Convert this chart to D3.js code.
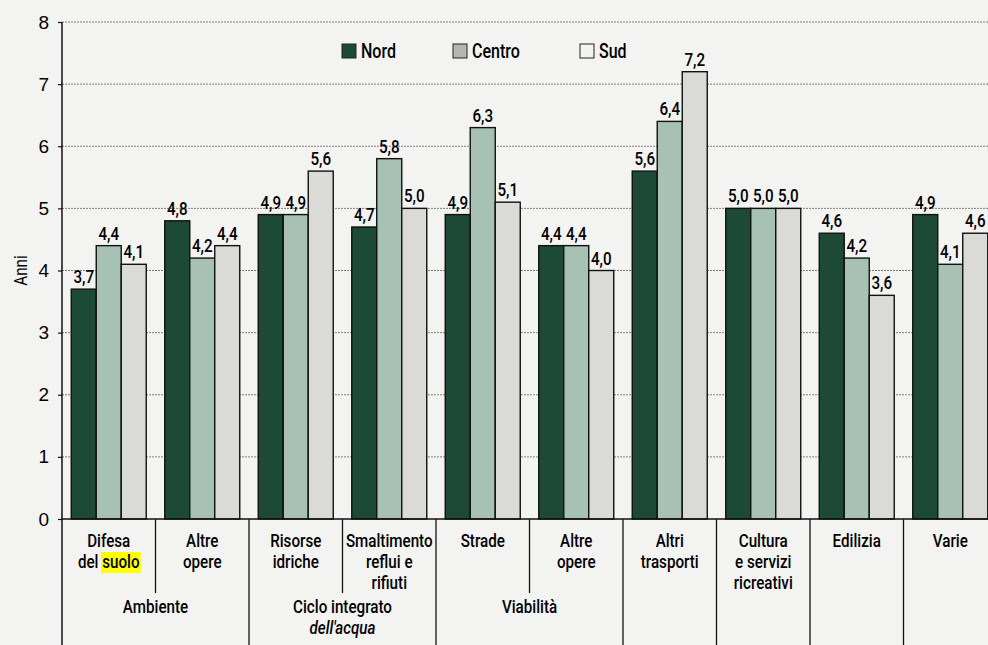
<!DOCTYPE html>
<html><head><meta charset="utf-8">
<script src="https://cdn.jsdelivr.net/npm/d3@7"></script>
<style>
html,body{margin:0;padding:0;background:#f3f3f1;}
svg{display:block;}
text{font-family:Roboto,"Liberation Sans",sans-serif;fill:#000;font-weight:500;}
</style></head>
<body>
<svg id="chart" width="988" height="645"></svg>
<script>
const categories = ["Difesa del suolo","Altre opere (Ambiente)","Risorse idriche","Smaltimento reflui e rifiuti","Strade","Altre opere (Viabilità)","Altri trasporti","Cultura e servizi ricreativi","Edilizia","Varie"];
const categoryLines = [["Difesa","del suolo"],["Altre","opere"],["Risorse","idriche"],["Smaltimento","reflui e","rifiuti"],["Strade"],["Altre","opere"],["Altri","trasporti"],["Cultura","e servizi","ricreativi"],["Edilizia"],["Varie"]];
const seriesNames = ["Nord","Centro","Sud"];
const nord   = [3.7, 4.8, 4.9, 4.7, 4.9, 4.4, 5.6, 5.0, 4.6, 4.9];
const centro = [4.4, 4.2, 4.9, 5.8, 6.3, 4.4, 6.4, 5.0, 4.2, 4.1];
const sud    = [4.1, 4.4, 5.6, 5.0, 5.1, 4.0, 7.2, 5.0, 3.6, 4.6];
const groups = [
  {name:["Ambiente"], from:0, to:1},
  {name:["Ciclo integrato","dell'acqua"], from:2, to:3},
  {name:["Viabilità"], from:4, to:5}
];
const yTicks = [0,1,2,3,4,5,6,7,8];
const colors = {Nord:"#1d4a36", Centro:"#a7c2b4", Sud:"#dadad6"};
const legendColors = {Nord:"#1d4a36", Centro:"#b3b6b2", Sud:"#f2f2f0"};

const values = {Nord:nord, Centro:centro, Sud:sud};
const svg = d3.select("#chart");
const x0 = 62, x1 = 997, yTop = 22, yBot = 519;
const SX = 0.8;

function ctext(parent, x, y, str, size, anchor, style){
  const g = parent.append("g").attr("transform", `translate(${x},${y}) scale(${SX},1)`);
  const t = g.append("text").attr("x", 0).attr("y", 0).attr("font-size", size)
    .attr("text-anchor", anchor || "middle").attr("font-style", style || "normal").text(str);
  return {g, t};
}

const xBand = d3.scaleBand().domain(categories).range([x0, x1]).padding(0);
const xs = d3.scaleBand().domain(seriesNames).range([0, xBand.bandwidth()]).paddingInner(0).paddingOuter(0.37);
const y = d3.scaleLinear().domain([0, 8]).range([yBot, yTop]);

svg.append("g").selectAll("line").data(yTicks.filter(d=>d>0)).join("line")
  .attr("x1", x0).attr("x2", 988).attr("y1", d=>y(d)).attr("y2", d=>y(d))
  .attr("stroke", "#808080").attr("stroke-width", 1).attr("stroke-dasharray", "2,1");

const fmt = v => d3.format(".1f")(v).replace(".", ",");
const cat = svg.append("g").selectAll("g").data(categories).join("g")
  .attr("transform", d=>`translate(${xBand(d)},0)`);
cat.each(function(c, i){
  const g = d3.select(this);
  seriesNames.forEach(s=>{
    const v = values[s][i];
    g.append("rect").attr("x", xs(s)).attr("width", xs.bandwidth())
      .attr("y", y(v)).attr("height", y(0)-y(v))
      .attr("fill", colors[s]).attr("stroke", "#111").attr("stroke-width", 1.4);
    ctext(g, xs(s)+xs.bandwidth()/2, y(v)-6, fmt(v), 19, "middle");
  });
});

const yAxis = d3.axisLeft(y).tickValues(yTicks).tickSize(4).tickPadding(9).tickFormat(d=>d);
const ya = svg.append("g").attr("transform", `translate(${x0},0)`).call(yAxis);
ya.select(".domain").remove();
ya.selectAll(".tick line").attr("stroke", "#111").attr("stroke-width", 1.2);
ya.selectAll(".tick text").attr("font-size", 19).style("font-family", "'Liberation Sans',Arial,sans-serif").style("font-weight", "normal").attr("fill", "#111");
svg.append("line").attr("x1", x0).attr("x2", x0).attr("y1", yTop).attr("y2", 645).attr("stroke", "#111").attr("stroke-width", 1.5);
svg.append("line").attr("x1", x0).attr("x2", 988).attr("y1", yBot).attr("y2", yBot).attr("stroke", "#111").attr("stroke-width", 1.5);

svg.append("text").attr("transform", `translate(27,${y(4)}) rotate(-90) scale(${SX},1)`).attr("text-anchor","middle")
  .attr("font-size", 19).style("font-weight", "normal").text("Anni");

categories.forEach((c,i)=>{
  if (i===0) return;
  const inside = groups.some(g=> i>g.from && i<=g.to);
  svg.append("line").attr("x1", xBand(c)).attr("x2", xBand(c)).attr("y1", yBot).attr("y2", inside ? 593 : 645)
    .attr("stroke", "#111").attr("stroke-width", 1.3);
});

categories.forEach((c,i)=>{
  const cx = xBand(c) + xBand.bandwidth()/2;
  categoryLines[i].forEach((line, k)=>{
    const yy = 547 + k*21;
    if (line === "del suolo") {
      const {g, t} = ctext(svg, cx, yy, "", 19, "middle");
      t.append("tspan").text("del ");
      t.append("tspan").text("suolo");
      const full = t.node().getComputedTextLength();
      const delW = t.node().getSubStringLength(0, 4);
      const sW = t.node().getSubStringLength(4, 5);
      const left = -full/2 + delW;
      g.insert("rect", () => t.node()).attr("x", left-1.5).attr("y", -16).attr("width", sW+3).attr("height", 21).attr("fill", "#ffff00");
    } else {
      ctext(svg, cx, yy, line, 19, "middle");
    }
  });
});

groups.forEach(g=>{
  const cx = (xBand(categories[g.from]) + xBand(categories[g.to]) + xBand.bandwidth())/2;
  g.name.forEach((line,k)=>{
    ctext(svg, cx, 613 + k*21, line, 19, "middle", k===1 ? "italic" : "normal");
  });
});

const legendX = [342, 453, 580];
seriesNames.forEach((s,i)=>{
  svg.append("rect").attr("x", legendX[i]).attr("y", 44).attr("width", 14).attr("height", 14)
    .attr("fill", legendColors[s]).attr("stroke", "#222").attr("stroke-width", 1);
  ctext(svg, legendX[i]+19, 58, s, 20, "start");
});
</script>
</body></html>
